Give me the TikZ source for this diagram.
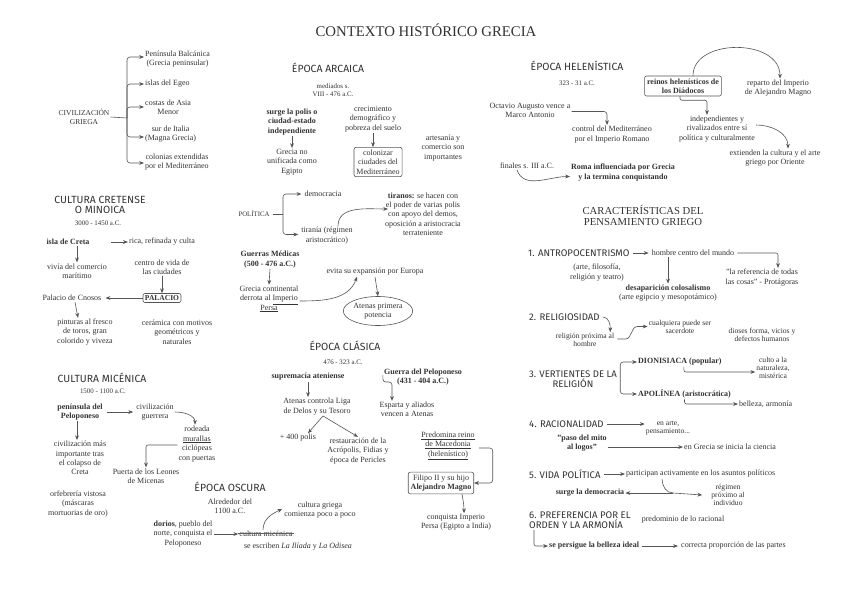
\documentclass[tikz,border=0pt]{standalone}
\usepackage{fontspec}
\setmainfont{Liberation Serif}
\newfontfamily\hdfont{Fira Sans}
\usetikzlibrary{arrows.meta,shapes.geometric,calc}
\definecolor{txt}{HTML}{333333}
\definecolor{ar}{HTML}{555555}
\definecolor{strk}{HTML}{C0392B}
\newcommand\mybody{\fontsize{8}{9.3}\selectfont}
\newcommand\mysmall{\fontsize{6.9}{8.2}\selectfont}
\begin{document}
\begin{tikzpicture}[x=1pt,y=-1pt,
  t/.style={font=\mybody, align=center, text=txt, inner sep=1pt},
  tb/.style={t, font=\mybody\bfseries},
  tr/.style={t, font=\fontsize{7.6}{8}\selectfont},
  ts/.style={t, font=\mysmall},
  hd/.style={font=\hdfont\fontsize{10.4}{10.5}\selectfont, text=txt, align=center, inner sep=1pt},
  hn/.style={font=\hdfont\fontsize{9.6}{10}\selectfont, text=txt, align=center, inner sep=1pt},
  ttl/.style={font=\fontsize{14.8}{15}\selectfont, text=txt, align=center, inner sep=1pt},
  bx/.style={draw=ar, rounded corners=2pt, line width=0.6pt, inner sep=2.5pt},
  arr/.style={draw=ar, line width=0.6pt, -{Stealth[length=4.8pt,width=3.8pt]}},
  ln/.style={draw=ar, line width=0.6pt}]
\fill[white] (0,0) rectangle (848,599);
\path[use as bounding box] (0,0) rectangle (848,599);

% title
\node[ttl] (title) at (426,30) {CONTEXTO HISTÓRICO GRECIA};

% ---------- civilización griega
\node[t, font=\fontsize{7.5}{9.5}\selectfont] (civ) at (84,117) {CIVILIZACIÓN\\GRIEGA};
\coordinate (cb) at (127,118);
\node[t, anchor=west] (pen) at (144,59) {Península Balcánica\\(Grecia peninsular)};
\node[t, anchor=west] (isl) at (144,84) {islas del Egeo};
\node[t, anchor=west] (cos) at (144,107) {costas de Asia\\Menor};
\node[t, anchor=west] (sur) at (144,134) {sur de Italia\\(Magna Grecia)};
\node[t, anchor=west] (col) at (144,162) {colonias extendidas\\por el Mediterráneo};
\draw[ln] (civ.east) -- (cb);
\foreach \n/\yy in {pen/57,isl/84,cos/107,sur/137,col/163}{
  \draw[arr, rounded corners=3pt] (cb) |- (\n.west |- 0,\yy);
}

% ---------- cultura cretense
\node[hd] (hcre) at (100,205) {CULTURA CRETENSE\\O MINOICA};
\node[ts] (dcre) at (98,223) {3000 - 1450 a.C.};
\node[tb] (creta) at (68,242) {isla de Creta};
\node[t] (rica) at (162,242) {rica, refinada y culta};
\node[t] (viv) at (77,271) {vivía del comercio\\marítimo};
\node[t] (cen) at (162,267) {centro de vida de\\las ciudades};
\node[bx, font=\fontsize{7.5}{9}\selectfont\bfseries, text=txt, inner sep=2pt] (pal) at (162,298) {PALACIO};
\node[t] (cno) at (72,298) {Palacio de Cnosos};
\node[t] (pin) at (85,332) {pinturas al fresco\\de toros, gran\\colorido y viveza};
\node[t] (cer) at (177,332) {cerámica con motivos\\geométricos y\\naturales};
\draw[arr] ([xshift=20pt]creta.east) -- (rica.west);
\draw[arr] (creta.south -| viv.north) -- (viv.north);
\draw[arr] (cen.south) -- (pal.north);
\draw[arr] (pal.west) -- ([xshift=3pt]cno.east);
\draw[arr] ([xshift=3pt]cno.south) -- ([xshift=-7pt]pin.north);

% ---------- cultura micénica
\node[hd] (hmic) at (102,378) {CULTURA MICÉNICA};
\node[ts] (dmic) at (103,391) {1500 - 1100 a.C.};
\node[tb] (pel) at (80,412) {península del\\Peloponeso};
\node[t] (civg) at (155,412) {civilización\\guerrera};
\node[t, font=\fontsize{8}{9.7}\selectfont] (rod) at (197,444) {rodeada\\\underline{murallas}\\ciclópeas\\con puertas};
\node[t] (pue) at (146,476) {Puerta de los Leones\\de Micenas};
\node[t] (cmi) at (80,458) {civilización más\\importante tras\\el colapso de\\Creta};
\node[t] (orf) at (78,504) {orfebrería vistosa\\(máscaras\\mortuorias de oro)};
\draw[arr] ([xshift=3pt]pel.east) -- ([xshift=-2pt]civg.west);
\draw[arr] (civg.east) to[out=0,in=90] ([xshift=-2pt]rod.north);
\draw[arr, rounded corners=2pt] ([yshift=-1pt]rod.west) -| (pue.north);
\draw[arr] ([xshift=-3pt]pel.south) -- ([xshift=-3pt]pel.south |- cmi.north);

% ---------- época oscura
\node[hd] (hosc) at (230,487) {ÉPOCA OSCURA};
\node[t] (dosc) at (230,506) {Alrededor del\\1100 a.C.};
\node[t] (dor) at (183,534) {\textbf{dorios}, pueblo del\\norte, conquista el\\Peloponeso};
\node[t] (cmic) at (266,534) {cultura micénica};
\draw[strk, line width=0.7pt] ([yshift=0.3pt]cmic.west) -- ([yshift=0.3pt]cmic.east);
\node[t] (cgr) at (320,510) {cultura griega\\comienza poco a poco};
\node[t] (ili) at (298,547) {se escriben \textit{La Ilíada} y \textit{La Odisea}};
\draw[arr] (dor.east) -- (cmic.west);
\draw[arr] ([xshift=-3pt]cmic.north) to[out=90,in=205] ([xshift=-1pt,yshift=1pt]cgr.west);

% ---------- época arcaica
\node[hd] (harc) at (328,68) {ÉPOCA ARCAICA};
\node[ts] (darc) at (333,90) {mediados s.\\VIII - 476 a.C.};
\node[tb] (surg) at (292,122) {surge la polis o\\ciudad-estado\\independiente};
\node[t] (gre) at (292,162) {Grecia no\\unificada como\\Egipto};
\node[t] (cre) at (373,119) {crecimiento\\demográfico y\\pobreza del suelo};
\node[bx, t, inner sep=2.5pt] (colz) at (378,162) {colonizar\\ciudades del\\Mediterráneo};
\node[t] (art) at (443,148) {artesanía y\\comercio son\\importantes};
\draw[arr] (surg.south) -- (gre.north);
\draw[arr] (cre.south) -- (cre.south |- colz.north);

% política
\node[t, font=\fontsize{6.8}{8}\selectfont] (pol) at (254,214) {POLÍTICA};
\coordinate (pb) at (283,214);
\node[t] (dem) at (323,194) {democracia};
\node[t] (tir) at (327,235.5) {tiranía (régimen\\aristocrático)};
\node[t] (tiro) at (423,214) {\textbf{tiranos:} se hacen con\\el poder de varias polis\\con apoyo del demos,\\oposición a aristocracia\\terrateniente};
\draw[ln] ([xshift=2pt]pol.east) -- (pb);
\draw[arr, rounded corners=3pt] (pb) |- ([xshift=-2pt]dem.west);
\draw[arr, rounded corners=3pt] (pb) |- ([xshift=-2pt,yshift=1pt]tir.west);
\draw[arr] ([xshift=11pt]tir.north) to[out=90,in=180] ([xshift=4pt,yshift=5pt]tiro.west);

% guerras médicas
\node[tb] (gm) at (270,259.5) {Guerras Médicas\\(500 - 476 a.C.)};
\node[t] (gc) at (269,299) {Grecia continental\\derrota al \underline{Imperio}\\\underline{Persa}};
\node[t] (evi) at (375,272) {evita su expansión por Europa};
\node[draw=ar, line width=0.6pt, ellipse, t, inner sep=0pt, minimum width=63pt, minimum height=29pt] (ate) at (378,311) {Atenas primera\\potencia};
\draw[arr] (gm.south) -- (gc.north);
\draw[arr] ([yshift=-2pt]gc.east) to[out=0,in=250] ([xshift=-18pt]evi.south);
\draw[arr] (evi.south) -- (ate.north);

% ---------- época clásica
\node[hd] (hcla) at (345,346) {ÉPOCA CLÁSICA};
\node[ts] (dcla) at (343,362) {476 - 323 a.C.};
\node[tb] (sup) at (308,377) {supremacía ateniense};
\node[t] (atc) at (317,406.5) {Atenas controla Liga\\de Delos y su Tesoro};
\node[t] (pol4) at (298,438) {+ 400 polis};
\node[t] (res) at (358,451) {restauración de la\\Acrópolis, Fidias y\\época de Pericles};
\draw[arr] (sup.south) -- (sup.south |- atc.north);
\draw[arr] ([xshift=6pt]atc.south) -- ([xshift=10pt]pol4.north);
\draw[arr] ([xshift=6pt]atc.south) -- (res.north);
\node[tb] (gp) at (423,377) {Guerra del Peloponeso\\(431 - 404 a.C.)};
\node[t] (esp) at (407,409.5) {Esparta y aliados\\vencen a Atenas};
\draw[arr, rounded corners=3pt] ([yshift=2pt]gp.west) -- ++(0,7) -| ([xshift=-15pt]esp.north);
\node[t] (mac) at (448,446) {\underline{Predomina reino}\\\underline{de Macedonia}\\\underline{(helenístico)}};
\node[bx, t, inner sep=2.5pt] (fil) at (441,483) {Filipo II y su hijo\\\textbf{Alejandro Magno}};
\node[t] (con) at (456,522.5) {conquista Imperio\\Persa (Egipto a India)};
\draw[arr, rounded corners=3pt] ([xshift=3pt,yshift=-2pt]mac.east) -- ++(14,0) |- (fil.east);
\draw[arr] ([xshift=21pt]fil.south) to[out=-80,in=90] ([xshift=8pt]con.north);

% ---------- época helenística
\node[hd] (hhel) at (577,66) {ÉPOCA HELENÍSTICA};
\node[ts] (dhel) at (577,83) {323 - 31 a.C.};
\node[bx, tb, inner sep=2.5pt] (rei) at (683,86) {reinos helenísticos de\\los Diádocos};
\node[t] (rep) at (778,88) {reparto del Imperio\\de Alejandro Magno};
\node[t] (ind) at (717,129) {independientes y\\rivalizados entre sí\\política y culturalmente};
\node[t] (ext) at (775,158) {extienden la cultura y el arte\\griego por Oriente};
\node[t] (oct) at (530,110.5) {Octavio Augusto vence a\\Marco Antonio};
\node[t] (ctl) at (612,134.5) {control del Mediterráneo\\por el Imperio Romano};
\node[t] (fin) at (527,166) {finales s. III a.C.};
\node[tb] (rom) at (623,172.5) {Roma influenciada por Grecia\\y la termina conquistando};
\draw[arr] ([xshift=10pt]rei.north) .. controls (693,38) and (780,38) .. ([xshift=2pt]rep.north);
\draw[arr, rounded corners=2pt] ([xshift=-3pt]rei.south) -- ++(0,4) -| ([xshift=-10pt]ind.north);
\draw[arr] ([yshift=4pt]ind.east) to[out=0,in=90] ([xshift=13pt]ext.north);
\draw[arr, rounded corners=3pt] ([yshift=-1pt]oct.east) -| ([xshift=-5pt]ctl.north);
\draw[arr] ([xshift=-10pt]fin.south) to[out=-70,in=180] ([yshift=-4pt]rom.west);

% ---------- características
\node[ttl, font=\fontsize{10.7}{11.5}\selectfont] (hcar) at (643,215.5) {CARACTERÍSTICAS DEL\\PENSAMIENTO GRIEGO};
\node[hn, anchor=west] (ant) at (527,253) {1. ANTROPOCENTRISMO};
\node[t] (hom) at (693,253) {hombre centro del mundo};
\node[t] (artf) at (597,272.5) {(arte, filosofía,\\religión y teatro)};
\node[t] (des) at (668,293) {\textbf{desaparición colosalismo}\\(arte egipcio y mesopotámico)};
\node[t] (ref) at (762,277.5) {"la referencia de todas\\las cosas" - Protágoras};
\draw[arr] ([xshift=2pt]ant.east) -- ([xshift=-2pt]hom.west);
\draw[arr, rounded corners=2pt] ([xshift=2pt]hom.east) -| ([xshift=16pt]ref.north);
\draw[arr] (hom.south -| des.north) -- (des.north);

\node[hn, anchor=west] (rel) at (528,317) {2. RELIGIOSIDAD};
\node[tr] (rpx) at (585,340) {religión próxima al\\hombre};
\node[tr] (cua) at (680,326.5) {cualquiera puede ser\\sacerdote};
\node[tr] (dio) at (762,335) {dioses forma, vicios y\\defectos humanos};
\draw[arr] ([xshift=2pt]rel.east) to[out=0,in=90] ([xshift=-5pt]rpx.north east);
\draw[arr] ([xshift=2pt,yshift=1pt]rpx.east) -- ++(8,0) to[out=0,in=180] ($(cua.west)+(-10,0)$) -- (cua.west);

\node[hn] (ver) at (573,379) {3. VERTIENTES DE LA\\RELIGIÓN};
\coordinate (vb) at ([xshift=2pt]ver.east);
\node[tb, anchor=west] (dion) at (637,362) {DIONISIACA (popular)};
\node[tb, anchor=west] (apo) at (637,394) {APOLÍNEA (aristocrática)};
\node[tr] (cul) at (773,368) {culto a la\\naturaleza,\\mistérica};
\node[t, anchor=west] (bel) at (738,404) {belleza, armonía};
\draw[arr, rounded corners=3pt] (vb) |- (dion.west);
\draw[arr, rounded corners=3pt] (vb) |- (apo.west);
\draw[arr, rounded corners=2pt] ([xshift=4pt]dion.south) |- ([yshift=-4pt]cul.west);
\draw[arr, rounded corners=2pt] (apo.south) |- (bel.west);

\node[hn, anchor=west] (rac) at (528,424) {4. RACIONALIDAD};
\node[tr] (enart) at (668,428) {en arte,\\pensamiento...};
\node[tb] (pas) at (582,443) {"paso del mito\\al logos"};
\node[t, anchor=west] (cie) at (683,447) {en Grecia se inicia la ciencia};
\draw[arr] ([xshift=2pt]rac.east) -- ([yshift=4pt]enart.west);
\draw[arr] ([yshift=-4pt]pas.east) -- (cie.west);

\node[hn, anchor=west] (vid) at (528,474) {5. VIDA POLÍTICA};
\node[t, anchor=west] (par) at (625,474) {participan activamente en los asuntos políticos};
\node[tb] (sdem) at (590,493) {surge la democracia};
\node[tr] (reg) at (728,495) {régimen\\próximo al\\individuo};
\coordinate (mm) at (673,493);
\draw[arr] ([xshift=2pt]vid.east) -- (par.west);
\draw[ln] ([xshift=37pt]par.south west) to[out=-90,in=180] (mm);
\draw[arr] (mm) -- (sdem.east);
\draw[arr] (mm) -- ([xshift=-8pt]reg.west);

\node[hn, anchor=west, align=left] (pre) at (528,520.5) {6. PREFERENCIA POR EL\\ORDEN Y LA ARMONÍA};
\node[t] (prd) at (683,520) {predominio de lo racional};
\node[tb, anchor=west] (bi) at (548,546) {se persigue la belleza ideal};
\node[t, anchor=west] (cor) at (680,546) {correcta proporción de las partes};
\draw[arr, rounded corners=2pt] ([xshift=6pt]pre.south west) |- (bi.west);
\draw[arr] ([xshift=2pt]bi.east) -- ([xshift=-2pt]cor.west);
\end{tikzpicture}
\end{document}
